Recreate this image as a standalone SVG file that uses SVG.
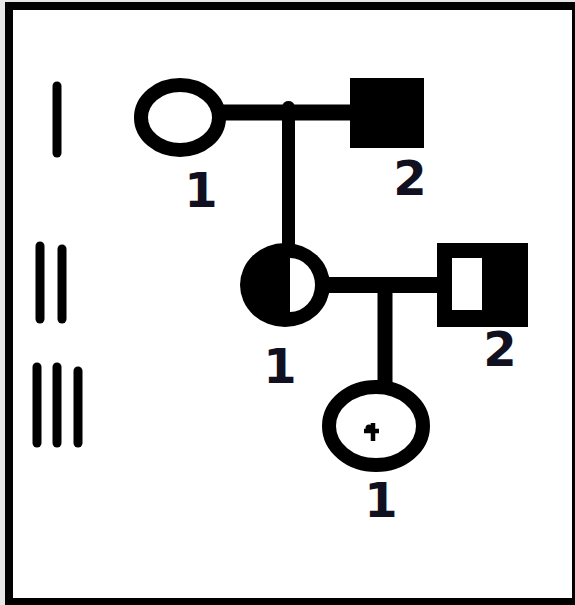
<svg xmlns="http://www.w3.org/2000/svg" width="575" height="605" viewBox="0 0 575 605">
  <style>
    .lbl { font-family: "DejaVu Sans", "Liberation Sans", sans-serif; font-weight: bold; font-size: 48px; fill: #101020; text-anchor: middle; }
    .gen { stroke: #000; stroke-width: 9; stroke-linecap: round; fill: none; }
    .conn { stroke: #000; fill: none; }
    .ring { fill: #fff; stroke: #000; }
  </style>
  <rect x="0" y="0" width="575" height="605" fill="#e6e6e6"/>
  <rect x="5" y="2" width="570" height="603" fill="#000"/>
  <rect x="13" y="10" width="559" height="588" fill="#fff"/>

  <g id="generations">
    <line class="gen" x1="57" y1="86" x2="57" y2="153"/>
    <line class="gen" x1="40" y1="246" x2="40" y2="319"/>
    <line class="gen" x1="62" y1="249" x2="62" y2="319"/>
    <line class="gen" x1="37" y1="367" x2="37" y2="443"/>
    <line class="gen" x1="57" y1="367" x2="57" y2="443"/>
    <line class="gen" x1="78" y1="371" x2="78" y2="443"/>
  </g>

  <g id="connectors">
    <line class="conn" x1="215" y1="112.5" x2="352" y2="112.5" stroke-width="16"/>
    <line class="conn" x1="288.5" y1="107" x2="288.5" y2="250" stroke-width="13"/>
    <ellipse cx="288.5" cy="106" rx="6" ry="5" fill="#000"/>
    <line class="conn" x1="326" y1="285" x2="439" y2="285" stroke-width="16"/>
    <line class="conn" x1="385" y1="285" x2="385" y2="384" stroke-width="15"/>
  </g>

  <g id="I-1">
    <ellipse class="ring" cx="180" cy="117.5" rx="39" ry="32.5" stroke-width="14"/>
    <text class="lbl" x="201" y="207">1</text>
  </g>
  <g id="I-2">
    <rect x="350" y="78" width="74" height="70" fill="#000"/>
    <text class="lbl" x="410" y="195">2</text>
  </g>
  <g id="II-1">
    <ellipse cx="285" cy="285" rx="45" ry="42" fill="#000"/>
    <path d="M290,258 A25,27 0 0 1 290,312 Z" fill="#fff"/>
    <text class="lbl" x="280" y="383">1</text>
  </g>
  <g id="II-2">
    <rect x="437" y="243" width="91" height="84" fill="#000"/>
    <rect x="452" y="258" width="30" height="52" fill="#fff"/>
    <text class="lbl" x="500" y="366">2</text>
  </g>
  <g id="III-1">
    <ellipse class="ring" cx="376" cy="426" rx="47" ry="39" stroke-width="14"/>
    <path d="M364,431 H379 M373,423 V441" stroke="#000" stroke-width="4.5" fill="none"/>
    <circle cx="369" cy="428" r="3.5" fill="#000"/>
    <text class="lbl" x="381" y="517">1</text>
  </g>
</svg>
